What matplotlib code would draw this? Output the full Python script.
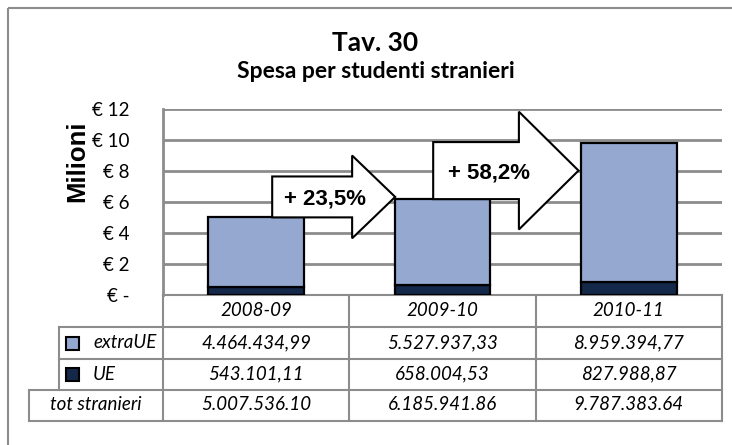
import matplotlib
matplotlib.use("Agg")
import matplotlib.pyplot as plt
import matplotlib.transforms as mtransforms
from matplotlib.patches import Polygon, Rectangle

# data
anni = ['2008-09', '2009-10', '2010-11']
extra_ue = [4464434.99, 5527937.33, 8959394.77]
ue = [543101.11, 658004.53, 827988.87]
extra_ue_lbl = ['4.464.434,99', '5.527.937,33', '8.959.394,77']
ue_lbl = ['543.101,11', '658.004,53', '827.988,87']
tot_lbl = ['5.007.536.10', '6.185.941.86', '9.787.383.64']
crescita = ['+ 23,5%', '+ 58,2%']

C_EXTRA = '#95a9d0'
C_UE = '#14284a'
GRID = '#8c8c8c'
CAL = 'Lato'

W, H = 732, 445
fig = plt.figure(figsize=(W / 100, H / 100), dpi=100)

# overlay in pixel coords for frame and table
ov = fig.add_axes([0, 0, 1, 1], zorder=0)
ov.set_xlim(0, W)
ov.set_ylim(H, 0)
ov.axis('off')
ov.add_patch(Rectangle((8, 8), W + 50, H + 50, fill=False, ec=GRID, lw=1.5))

ax = fig.add_axes([163 / W, 1 - 295 / H, 559 / W, 186 / H], zorder=1)
ax.set_facecolor('none')

x = list(range(len(anni)))
ue_m = [v / 1e6 for v in ue]
ex_m = [v / 1e6 for v in extra_ue]
tot_m = [a + b for a, b in zip(ue_m, ex_m)]

ax.bar(x, ue_m, width=0.515, color=C_UE, edgecolor='black', lw=1.6, zorder=3)
ax.bar(x, ex_m, bottom=ue_m, width=0.515, color=C_EXTRA, edgecolor='black', lw=1.6, zorder=3)

ax.set_xlim(-0.5, 2.5)
ax.set_ylim(0, 12)
ticks = list(range(0, 13, 2))
ax.set_yticks(ticks)
ax.set_yticklabels(['€ -' if t == 0 else f'€ {t}' for t in ticks], fontfamily=CAL, fontsize=13.5)
ax.tick_params(axis='y', length=0, pad=24)
ax.set_xticks([])
for s in ['top', 'right', 'bottom']:
    ax.spines[s].set_visible(False)
ax.spines['left'].set_color(GRID)
ax.spines['left'].set_linewidth(2)
ax.yaxis.grid(True, color=GRID, lw=2)
ax.set_axisbelow(True)

# growth arrows: (x body start, x head start, x tip, body half height, head half height)
frecce = [(0.086, 0.515, 0.746, 1.32, 2.67), (0.95, 1.41, 1.73, 1.84, 3.8)]
centri = [tot_m[0] + 1.32, tot_m[1] + 1.84]
for (xb, xh, xt, bh, hh), yc, lbl in zip(frecce, centri, crescita):
    pts = [(xb, yc - bh), (xh, yc - bh), (xh, yc - hh), (xt, yc), (xh, yc + hh),
           (xh, yc + bh), (xb, yc + bh)]
    ax.add_patch(Polygon(pts, closed=True, fc='white', ec='black', lw=1.5, zorder=5, clip_on=False))
    ax.text(xb + (xh - xb) / 2 + 0.07, yc - 0.15, lbl, ha='center', va='center',
            fontfamily='Liberation Sans', fontweight='bold', fontsize=16, zorder=6)

# table
tr = mtransforms.blended_transform_factory(ax.transData, ov.transData)
righe = [295, 327, 359, 390, 421]
lk = dict(color=GRID, lw=1.5, solid_capstyle='projecting')
ov.plot([163, 722], [righe[0]] * 2, **lk)
ov.plot([59, 722], [righe[1]] * 2, **lk)
ov.plot([59, 722], [righe[2]] * 2, **lk)
ov.plot([29, 722], [righe[3]] * 2, **lk)
ov.plot([29, 722], [righe[4]] * 2, **lk)
ov.plot([59, 59], [righe[1], righe[3]], **lk)
ov.plot([29, 29], [righe[3], righe[4]], **lk)
for b in [-0.5, 0.5, 1.5, 2.5]:
    ov.plot([b, b], [righe[0], righe[4]], transform=tr, **lk)

tk = dict(ha='center', va='center', fontfamily=CAL, fontstyle='italic', fontsize=13.5, transform=tr)
for i in x:
    ov.text(i, 311, anni[i], **tk)
    ov.text(i, 343, extra_ue_lbl[i], **tk)
    ov.text(i, 374, ue_lbl[i], **tk)
    ov.text(i, 405, tot_lbl[i], **tk)

for yc, col, nome in [(343, C_EXTRA, 'extraUE'), (374, C_UE, 'UE')]:
    ov.add_patch(Rectangle((66, yc - 6.5), 13, 13, fc=col, ec='black', lw=1.5))
    ov.text(93, yc, nome, ha='left', va='center', fontfamily=CAL, fontstyle='italic', fontsize=13.5)
ov.text(96, 405, 'tot stranieri', ha='center', va='center', fontfamily=CAL, fontstyle='italic', fontsize=13.5)

fig.text(375 / W, 1 - 43 / H, 'Tav. 30', ha='center', va='center', fontfamily=CAL, fontweight='bold', fontsize=19)
fig.text(376 / W, 1 - 72 / H, 'Spesa per studenti stranieri', ha='center', va='center',
         fontfamily=CAL, fontweight='bold', fontsize=16.5)
fig.text(77 / W, 1 - 161 / H, 'Milioni', ha='center', va='center', rotation=90,
         fontfamily='Liberation Sans', fontweight='bold', fontsize=18.5)

fig.savefig('out.png', dpi=100)
